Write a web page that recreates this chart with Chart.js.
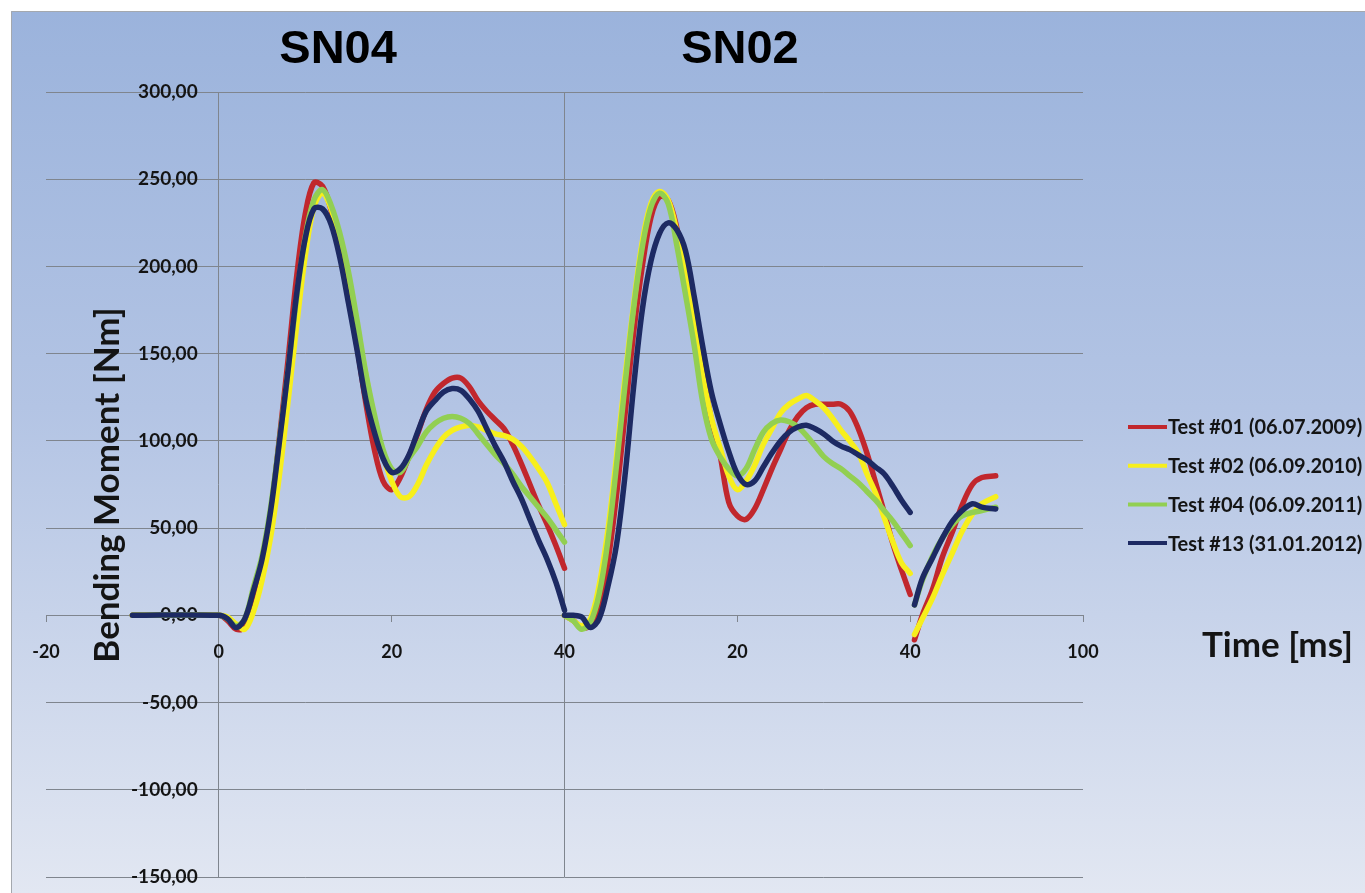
<!DOCTYPE html>
<html>
<head>
<meta charset="utf-8">
<script src="https://cdn.jsdelivr.net/npm/chart.js@4.4.1/dist/chart.umd.min.js"></script>
<style>
html,body{margin:0;padding:0;background:#ffffff;overflow:hidden;}
#wrap{width:1365px;height:893px;position:relative;}
canvas{display:block;}
</style>
</head>
<body>
<div id="wrap"><canvas id="c" width="1365" height="893"></canvas></div>
<script>
// ---------------- DATA ----------------
const seriesNames = ['Test #01 (06.07.2009)', 'Test #02 (06.09.2010)', 'Test #04 (06.09.2011)', 'Test #13 (31.01.2012)'];
const panelTitles = ['SN04', 'SN02'];

// SN04 panel: time in ms (axis value = time)
const timeSN04 = [-10, 0, 1, 2, 3, 4, 5, 6, 7, 8, 9, 10, 11, 12, 13, 14, 15, 16, 17, 18, 19, 20,
                  21, 22, 23, 24, 25, 26, 27, 28, 29, 30, 31, 32, 33, 34, 35, 36, 37, 38, 39, 40];
const test01_SN04 = [0, 0, -3, -8, -7, 8, 28, 58, 101, 146, 194, 230, 248, 246, 232, 208, 182, 154, 122, 95, 77, 72,
                     79, 91, 104, 118, 128, 133, 136, 136, 131, 123, 117, 112, 107, 98, 87, 75, 63, 52, 40, 27];
const test02_SN04 = [0, 0, -1, -5, -8, 2, 20, 45, 80, 122, 166, 206, 234, 242, 233, 215, 194, 167, 138, 113, 92, 77,
                     68, 68, 75, 86, 95, 102, 106, 108, 109, 108, 106, 104, 103, 101, 97, 91, 84, 76, 64, 52];
const test04_SN04 = [0, 0, -2, -6, -2, 16, 34, 62, 100, 140, 182, 217, 238, 244, 235, 219, 197, 169, 139, 115, 95, 84,
                     82, 90, 97, 105, 110, 113, 114, 113, 110, 104, 98, 92, 87, 81, 74, 68, 62, 56, 49, 42];
const test13_SN04 = [0, 0, -2, -7, -2, 14, 32, 60, 99, 140, 184, 216, 233, 233, 224, 205, 179, 152, 124, 105, 90, 82,
                     84, 92, 105, 117, 123, 128, 130, 129, 124, 117, 107, 97, 88, 77, 67, 55, 43, 32, 19, 3];

// SN02 panel: local time in ms, shown from axis value 40 onwards
const offsetSN02 = 40;
const timeSN02 = [0, 1, 2, 3, 4, 5, 6, 7, 8, 9, 10, 11, 12, 13, 14, 15, 16, 17, 18, 19, 20,
                  21, 22, 23, 24, 25, 26, 27, 28, 29, 30, 31, 32, 33, 34, 35, 36, 37, 38, 39, 40];
const test01_SN02 = [0, -3, -7, -6, 5, 30, 68, 115, 162, 200, 228, 240, 238, 222, 197, 168, 139, 112, 92, 65, 57,
                     55, 61, 72, 84, 95, 106, 114, 119, 121, 121, 121, 121, 117, 107, 93, 76, 59, 41, 26, 12];
const test02_SN02 = [0, -3, -6, -2, 17, 48, 90, 136, 178, 214, 236, 243, 238, 220, 196, 166, 137, 113, 96, 80, 72,
                     77, 86, 98, 107, 116, 121, 124, 126, 123, 119, 113, 106, 100, 93, 81, 70, 56, 42, 30, 24];
const test04_SN02 = [0, -3, -8, -4, 12, 42, 85, 132, 176, 211, 234, 242, 236, 212, 184, 155, 122, 101, 91, 84, 80,
                     84, 95, 105, 110, 112, 111, 108, 103, 97, 91, 87, 84, 80, 76, 71, 66, 60, 54, 47, 40];
const test13_SN02 = [0, 0, -1, -7, -2, 16, 40, 80, 131, 175, 203, 219, 225, 221, 209, 183, 154, 128, 110, 94, 81,
                     75, 77, 85, 93, 100, 105, 108, 109, 107, 104, 100, 97, 95, 92, 89, 85, 81, 74, 66, 59];

// Third piece: local time in ms, shown from axis value 80 onwards
const offsetTail = 80;
const timeTail = [0.5, 1.4, 2.6, 3.7, 4.9, 6.0, 7.2, 8.3, 9.9];
const test01_Tail = [-14, 0, 15, 33, 48, 63, 75, 79, 80];
const test02_Tail = [-11, -2, 10, 23, 36, 48, 58, 64, 68];
const test04_Tail = [6, 20, 34, 44, 52, 57, 59, 60, 62];
const test13_Tail = [6, 21, 33, 44, 54, 60, 64, 62, 61];

// axis ticks
const xTickValues = [-20, 0, 20, 40, 60, 80, 100];
const xTickLabels = ['-20', '0', '20', '40', '20', '40', '100'];
const yTickValues = [-150, -100, -50, 0, 50, 100, 150, 200, 250, 300];
const yTickLabels = ['-150,00', '-100,00', '-50,00', '0,00', '50,00', '100,00', '150,00', '200,00', '250,00', '300,00'];
const yAxisTitle = 'Bending Moment [Nm]';
const xAxisTitle = 'Time [ms]';

// ---------------- STYLE ----------------
const seriesColors = ['#c1272d', '#f7ef1c', '#92cf52', '#1d2a63'];
const gridColor = '#7f858e';
const textColor = '#141414';
const uiFont = 'Lato, "Open Sans", sans-serif';

function buildPoints(parts) {
  const pts = [];
  parts.forEach((p, i) => {
    if (i > 0) pts.push({x: p.offset + p.t[0], y: null});
    p.t.forEach((t, j) => pts.push({x: p.offset + t, y: p.v[j]}));
  });
  return pts;
}

const valueSets = [
  [test01_SN04, test01_SN02, test01_Tail],
  [test02_SN04, test02_SN02, test02_Tail],
  [test04_SN04, test04_SN02, test04_Tail],
  [test13_SN04, test13_SN02, test13_Tail]
];

const datasets = seriesNames.map((name, i) => ({
  label: name,
  data: buildPoints([
    {t: timeSN04, v: valueSets[i][0], offset: 0},
    {t: timeSN02, v: valueSets[i][1], offset: offsetSN02},
    {t: timeTail, v: valueSets[i][2], offset: offsetTail}
  ]),
  borderColor: seriesColors[i],
  backgroundColor: seriesColors[i],
  borderWidth: 5.5,
  pointRadius: 0,
  tension: 0.35,
  spanGaps: false,
  fill: false,
  order: seriesNames.length - i
}));

const decorPlugin = {
  id: 'decor',
  beforeDraw(chart) {
    const ctx = chart.ctx;
    ctx.save();
    ctx.fillStyle = '#ffffff';
    ctx.fillRect(0, 0, chart.width, chart.height);
    const g = ctx.createLinearGradient(0, 11, 0, chart.height);
    g.addColorStop(0, '#9bb3dc');
    g.addColorStop(0.45, '#b3c4e4');
    g.addColorStop(1, '#e2e7f2');
    ctx.fillStyle = g;
    ctx.fillRect(11, 11, chart.width - 11, chart.height - 11);
    ctx.strokeStyle = '#a4a8ae';
    ctx.lineWidth = 1;
    ctx.beginPath();
    ctx.moveTo(11.5, chart.height);
    ctx.lineTo(11.5, 11.5);
    ctx.lineTo(chart.width, 11.5);
    ctx.stroke();
    ctx.restore();
  },
  afterDraw(chart) {
    const ctx = chart.ctx;
    const xs = chart.scales.x;
    ctx.save();
    // panel titles
    ctx.fillStyle = '#000000';
    ctx.font = 'bold 47px "Liberation Sans", Arial, sans-serif';
    ctx.textAlign = 'center';
    ctx.textBaseline = 'middle';
    ctx.fillText(panelTitles[0], xs.getPixelForValue(13.8), 50);
    ctx.fillText(panelTitles[1], xs.getPixelForValue(60.3), 50);
    // y axis title
    ctx.save();
    ctx.font = 'bold 35px ' + uiFont;
    ctx.fillStyle = textColor;
    ctx.translate(108, 485);
    ctx.rotate(-Math.PI / 2);
    ctx.textAlign = 'center';
    ctx.textBaseline = 'middle';
    ctx.fillText(yAxisTitle, 0, 0);
    ctx.restore();
    // x axis title
    ctx.font = 'bold 35px ' + uiFont;
    ctx.fillStyle = textColor;
    ctx.textAlign = 'left';
    ctx.textBaseline = 'middle';
    ctx.fillText(xAxisTitle, 1202, 646);
    // legend
    ctx.font = 'bold 20px ' + uiFont;
    seriesNames.forEach((name, i) => {
      const y = 427 + i * 38.7;
      ctx.strokeStyle = seriesColors[i];
      ctx.lineWidth = 4;
      ctx.lineCap = 'butt';
      ctx.beginPath();
      ctx.moveTo(1128, y);
      ctx.lineTo(1167, y);
      ctx.stroke();
      ctx.fillStyle = textColor;
      ctx.textAlign = 'left';
      ctx.textBaseline = 'middle';
      ctx.fillText(name, 1168, y + 1);
    });
    ctx.restore();
  }
};

function make() {
  new Chart(document.getElementById('c'), {
    type: 'line',
    data: {datasets},
    plugins: [decorPlugin],
    options: {
      responsive: false,
      animation: false,
      devicePixelRatio: 1,
      layout: {padding: {left: 46, right: 282, top: 92, bottom: 16}},
      plugins: {legend: {display: false}, title: {display: false}, tooltip: {enabled: false}},
      elements: {line: {borderCapStyle: 'round', borderJoinStyle: 'round'}},
      scales: {
        x: {
          type: 'linear', min: -20, max: 100,
          position: {y: 0},
          afterBuildTicks: (s) => { s.ticks = xTickValues.map(v => ({value: v})); },
          ticks: {
            autoSkip: false, maxRotation: 0, padding: 20,
            color: textColor,
            font: {family: uiFont, weight: 'bold', size: 18},
            callback: (v) => xTickLabels[xTickValues.indexOf(v)]
          },
          grid: {
            color: (c) => (c.tick && (c.tick.value === 0 || c.tick.value === 40)) ? gridColor : 'rgba(0,0,0,0)',
            tickColor: gridColor, tickLength: 6, lineWidth: 1
          },
          border: {display: true, color: gridColor, width: 1}
        },
        y: {
          type: 'linear', min: -150, max: 300,
          // labels sit just left of the x = 0 line
          position: {x: -2.45},
          afterBuildTicks: (s) => { s.ticks = yTickValues.map(v => ({value: v})); },
          ticks: {
            padding: 0,
            color: textColor,
            font: {family: uiFont, weight: 'bold', size: 19},
            callback: (v) => yTickLabels[yTickValues.indexOf(v)]
          },
          grid: {color: gridColor, drawTicks: false, tickLength: 0, lineWidth: 1},
          border: {display: false}
        }
      }
    }
  });
}

const fontLoads = [
  'bold 18px Lato', 'bold 35px Lato', 'bold 47px "Liberation Sans"'
].map(f => document.fonts.load(f).catch(() => null));
Promise.race([Promise.all(fontLoads), new Promise(r => setTimeout(r, 1500))]).then(make);
</script>
</body>
</html>
